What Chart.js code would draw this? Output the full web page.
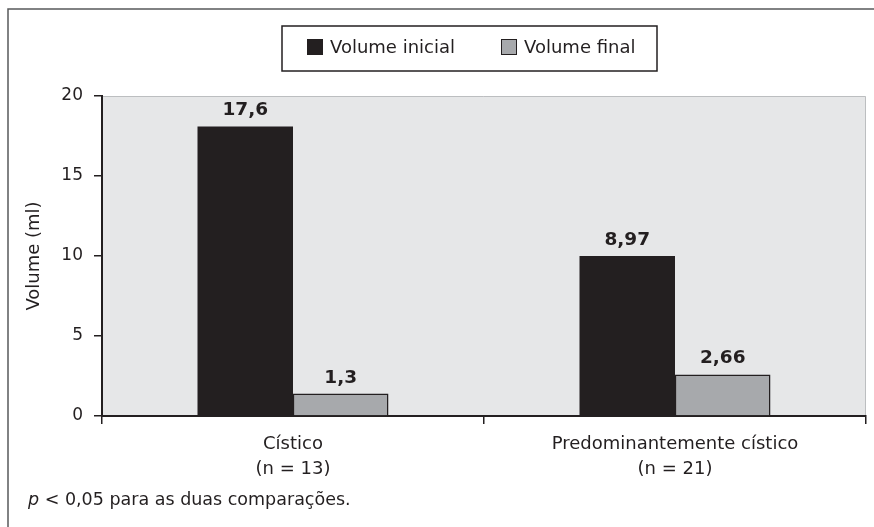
<!DOCTYPE html>
<html>
<head>
  <meta charset="utf-8">
  <title>Volume inicial e final</title>
  <script src="https://cdn.jsdelivr.net/npm/chart.js"></script>
  <style>
    * { margin: 0; padding: 0; box-sizing: border-box; }
    html, body { width: 874px; height: 527px; overflow: hidden; background: #fff; }
    #grafik { display: block; }
  </style>
</head>
<body>
  <canvas id="grafik" width="874" height="527"></canvas>

  <script>
    // data
    const kategori = [['Cístico', '(n = 13)'], ['Predominantemente cístico', '(n = 21)']];
    const volumeInicial = [18.1, 10.0];
    const volumeFinal = [1.4, 2.6];
    const labelInicial = ['17,6', '8,97'];
    const labelFinal = ['1,3', '2,66'];
    const yTicks = [0, 5, 10, 15, 20];
    const catatan = ' < 0,05 para as duas comparações.';

    const HITAM = '#231f20';
    const ABU = '#a7a9ac';
    const FONT = "'DejaVu Sans'";

    Chart.defaults.font.family = FONT;
    Chart.defaults.color = HITAM;

    // background, frame, legend, value labels, footnote
    const hiasan = {
      id: 'hiasan',
      beforeDraw(chart) {
        const c = chart.ctx, a = chart.chartArea;
        c.save();
        c.fillStyle = '#fff';
        c.fillRect(0, 0, chart.width, chart.height);
        c.fillStyle = '#e6e7e8';
        c.fillRect(a.left, a.top, a.right - a.left, a.bottom - a.top);
        c.strokeStyle = '#bcbec0';
        c.lineWidth = 1;
        c.beginPath();
        c.moveTo(a.left, a.top + 0.5);
        c.lineTo(a.right - 0.5, a.top + 0.5);
        c.lineTo(a.right - 0.5, a.bottom);
        c.stroke();
        c.restore();
      },
      afterDraw(chart) {
        const c = chart.ctx;
        c.save();

        // outer frame (left + top)
        c.strokeStyle = '#58595b';
        c.lineWidth = 1.5;
        c.beginPath();
        c.moveTo(8, chart.height);
        c.lineTo(8, 9);
        c.lineTo(chart.width, 9);
        c.stroke();

        // legend
        c.strokeStyle = HITAM;
        c.lineWidth = 1.5;
        c.strokeRect(282, 26, 375, 45);
        c.font = '18px ' + FONT;
        c.textBaseline = 'middle';
        c.textAlign = 'left';
        let x = 307;
        chart.data.datasets.forEach(ds => {
          c.fillStyle = ds.backgroundColor;
          c.fillRect(x, 39, 16, 16);
          c.lineWidth = 1;
          c.strokeStyle = HITAM;
          c.strokeRect(x + 0.5, 39.5, 15, 15);
          c.fillStyle = HITAM;
          c.fillText(ds.label, x + 23, 48);
          x += 23 + c.measureText(ds.label).width + 46;
        });

        // value labels
        c.font = 'bold 18.5px ' + FONT;
        c.textAlign = 'center';
        c.textBaseline = 'alphabetic';
        const teks = [labelInicial, labelFinal];
        chart.data.datasets.forEach((ds, i) => {
          chart.getDatasetMeta(i).data.forEach((bar, j) => {
            c.fillText(teks[i][j], bar.x, bar.y - 11);
          });
        });

        // footnote
        c.textAlign = 'left';
        c.font = 'italic 17.5px ' + FONT;
        c.fillText('p', 28, 505);
        const w = c.measureText('p').width;
        c.font = '17.5px ' + FONT;
        c.fillText(catatan, 28 + w, 505);
        c.restore();
      }
    };

    new Chart(document.getElementById('grafik'), {
      type: 'bar',
      data: {
        labels: kategori,
        datasets: [{
          label: 'Volume inicial',
          data: volumeInicial,
          backgroundColor: HITAM,
          borderWidth: 0,
          categoryPercentage: 0.5,
          barPercentage: 1.0
        }, {
          label: 'Volume final',
          data: volumeFinal,
          backgroundColor: ABU,
          borderColor: HITAM,
          borderWidth: 1.5,
          categoryPercentage: 0.5,
          barPercentage: 1.0
        }]
      },
      options: {
        responsive: false,
        animation: false,
        layout: { padding: { left: 10, right: 8, top: 96, bottom: 51 } },
        plugins: {
          legend: { display: false },
          tooltip: { enabled: false }
        },
        scales: {
          x: {
            grid: { drawOnChartArea: false, drawTicks: true, tickLength: 8, color: HITAM, lineWidth: 1.5 },
            border: { color: HITAM, width: 2 },
            ticks: { font: { size: 18, lineHeight: 1.4 }, color: HITAM, padding: 8, maxRotation: 0 },
            afterFit(s) { s.height = 60; }
          },
          y: {
            min: 0,
            max: 20,
            afterBuildTicks(s) { s.ticks = yTicks.map(v => ({ value: v })); },
            grid: { drawOnChartArea: false, drawTicks: true, tickLength: 8, color: HITAM, lineWidth: 1.5 },
            border: { color: HITAM, width: 2 },
            ticks: { font: { size: 17 }, color: HITAM, padding: 11 },
            title: { display: true, text: 'Volume (ml)', font: { size: 18 }, color: HITAM, padding: { top: 14, bottom: 0 } },
            afterFit(s) { s.width = 92; }
          }
        }
      },
      plugins: [hiasan]
    });
  </script>
</body>
</html>
